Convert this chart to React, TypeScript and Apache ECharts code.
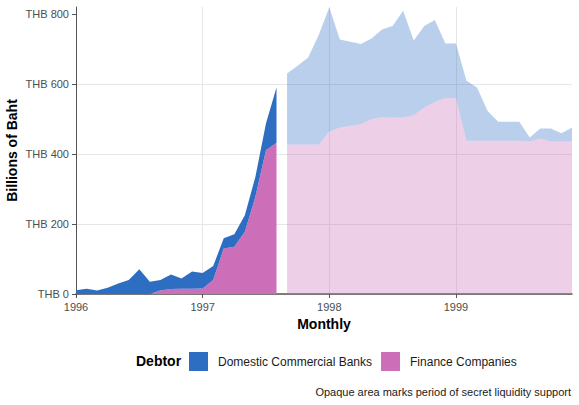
import React, { useEffect, useRef } from 'react';
import * as echarts from 'echarts';

// Monthly categories Jan 1996 .. Dec 1999
const YEARS = [1996, 1997, 1998, 1999];
const months: string[] = YEARS.flatMap((y) =>
  Array.from({ length: 12 }, (_, m) => `${y}-${String(m + 1).padStart(2, '0')}`)
);

// Billions of baht
// Jan 1996 .. Aug 1997 (opaque period)
const banksSecret = [
  11, 15, 10, 18, 30, 40, 71, 35, 30, 42, 29, 49, 44, 40, 29, 36, 47, 57, 76, 158,
];
const financeSecret = [
  0, 0, 0, 0, 0, 0, 0, 0, 10, 14, 15, 15, 16, 40, 130, 135, 178, 278, 411, 432,
];
// Sep 1997 .. Dec 1999 (transparent period)
const banksLater = [
  203, 225, 249, 313, 355, 251, 240, 228, 230, 251, 262, 305, 213, 233,
  234, 156, 156, 171, 152, 85, 54, 54, 54, 11, 29, 37, 23, 40,
];
const financeLater = [
  427, 427, 427, 427, 464, 476, 481, 486, 500, 505, 504, 504, 511, 533,
  549, 560, 560, 438, 438, 438, 438, 438, 438, 436, 444, 436, 436, 436,
];

const yTicks = [0, 200, 400, 600, 800];

const BLUE = '#2D6EC2';
const PINK = '#CC6EB8';
const FONT = '"Liberation Sans", Arial, sans-serif';

const pad = (arr: number[], before: number, after: number) => [
  ...Array(before).fill(null),
  ...arr,
  ...Array(after).fill(null),
];

const App: React.FC = () => {
  const chartRef = useRef<HTMLDivElement>(null);

  useEffect(() => {
    if (!chartRef.current) return;
    const chart = echarts.init(chartRef.current, undefined, { renderer: 'svg' });

    const nSecret = banksSecret.length;
    const nLater = banksLater.length;

    const areaSeries = (
      name: string,
      color: string,
      stack: string,
      data: (number | null)[],
      opacity: number
    ) => ({
      name,
      type: 'line',
      stack,
      data,
      color,
      showSymbol: false,
      symbol: 'none',
      lineStyle: { width: 0 },
      areaStyle: { color, opacity },
      emphasis: { disabled: true },
      z: 2,
    });

    const yearTick = (idx: number) => idx % 12 === 0;

    const option: echarts.EChartsOption = {
      animation: false,
      textStyle: { fontFamily: FONT },
      grid: { left: 76, right: 7, top: 7, bottom: 111, outerBoundsMode: 'none' } as any,
      xAxis: {
        type: 'category',
        data: months,
        boundaryGap: false,
        name: 'Monthly',
        nameLocation: 'middle',
        nameGap: 23,
        nameMoveOverlap: false,
        nameTextStyle: { fontSize: 14, fontWeight: 'bold', color: '#000', fontFamily: FONT },
        axisLine: { lineStyle: { color: '#555', width: 1.5 } },
        axisTick: { interval: (i: number) => yearTick(i), length: 4, lineStyle: { color: '#555' } },
        axisLabel: {
          interval: (i: number) => yearTick(i),
          formatter: (v: string) => v.slice(0, 4),
          fontSize: 11,
          color: '#4d4d4d',
          margin: 7,
          fontFamily: FONT,
        },
        splitLine: {
          show: true,
          interval: (i: number) => yearTick(i),
          lineStyle: { color: '#e6e6e6', width: 1 },
        },
      } as any,
      yAxis: {
        type: 'value',
        min: 0,
        max: 820,
        interval: 200,
        name: 'Billions of Baht',
        nameLocation: 'middle',
        nameGap: 57,
        nameMoveOverlap: false,
        nameTextStyle: { fontSize: 14, fontWeight: 'bold', color: '#000', fontFamily: FONT },
        axisLine: { show: true, lineStyle: { color: '#555', width: 1 } },
        axisTick: { show: true, length: 4, customValues: yTicks, lineStyle: { color: '#555' } },
        axisLabel: {
          customValues: yTicks,
          formatter: 'THB {value}',
          fontSize: 11,
          color: '#4d4d4d',
          margin: 7,
          fontFamily: FONT,
        },
        splitLine: { show: true, showMaxLine: false, lineStyle: { color: '#e6e6e6', width: 1 } },
      } as any,
      legend: {
        data: ['Domestic Commercial Banks', 'Finance Companies'],
        left: 189,
        top: 352,
        padding: 0,
        icon: 'rect',
        itemWidth: 19,
        itemHeight: 19,
        itemGap: 9,
        selectedMode: false,
        textStyle: { fontSize: 12, color: '#1a1a1a', fontFamily: FONT, padding: [0, 0, 0, 5] },
      },
      graphic: [
        {
          type: 'text',
          left: 136,
          top: 354,
          style: { text: 'Debtor', fontSize: 14, fontWeight: 'bold', fill: '#000', fontFamily: FONT },
        },
        {
          type: 'text',
          right: 8,
          top: 386,
          style: {
            text: 'Opaque area marks period of secret liquidity support',
            fontSize: 11,
            fill: '#1a1a1a',
            fontFamily: FONT,
          },
        },
      ],
      series: [
        areaSeries('Finance Companies', PINK, 'secret', pad(financeSecret, 0, nLater), 1),
        areaSeries('Domestic Commercial Banks', BLUE, 'secret', pad(banksSecret, 0, nLater), 1),
        areaSeries('Finance Companies (later)', PINK, 'later', pad(financeLater, nSecret, 0), 0.33),
        areaSeries('Domestic Commercial Banks (later)', BLUE, 'later', pad(banksLater, nSecret, 0), 0.33),
      ] as any,
    };

    chart.setOption(option);

    return () => {
      chart.dispose();
    };
  }, []);

  return (
    <div
      ref={chartRef}
      style={{ position: 'fixed', left: 0, top: 0, width: 579, height: 405, background: '#fff' }}
    />
  );
};

export default App;
